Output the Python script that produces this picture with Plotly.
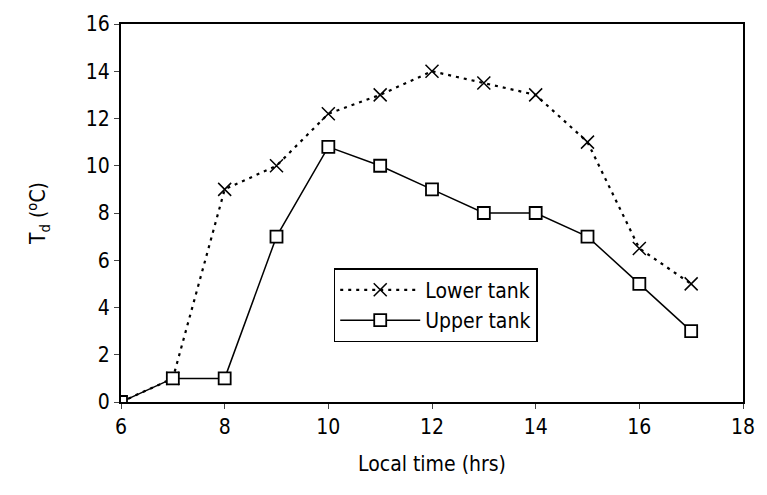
import plotly.graph_objects as go

hours = [6, 7, 8, 9, 10, 11, 12, 13, 14, 15, 16, 17]
lower_tank = [0, 1, 9, 10, 12.2, 13, 14, 13.5, 13, 11, 6.5, 5]
upper_tank = [0, 1, 1, 7, 10.8, 10, 9, 8, 8, 7, 5, 3]

x_ticks = [6, 8, 10, 12, 14, 16, 18]
y_ticks = [0, 2, 4, 6, 8, 10, 12, 14, 16]

FONT = "DejaVu Sans Condensed, DejaVu Sans, sans-serif"

fig = go.Figure()
fig.add_trace(go.Scatter(
    x=hours, y=lower_tank, name="Lower tank", mode="lines+markers",
    line=dict(color="black", width=2.2, dash="3px,5px"),
    marker=dict(symbol="x-thin-open", size=13, color="black",
                line=dict(color="black", width=1.5)),
))
fig.add_trace(go.Scatter(
    x=hours, y=upper_tank, name="Upper tank", mode="lines+markers",
    line=dict(color="black", width=1.5),
    marker=dict(symbol="square", size=12, color="white",
                line=dict(color="black", width=1.8)),
))

axis_common = dict(
    showgrid=False, zeroline=False, showline=True, linecolor="black",
    linewidth=2, mirror=True, ticks="outside", ticklen=5, tickwidth=1,
    tickcolor="#444", tickfont=dict(family=FONT, size=21, color="black"),
)

fig.update_layout(
    width=767, height=495,
    margin=dict(l=121, r=21, t=15, b=93),
    paper_bgcolor="white", plot_bgcolor="white",
    font=dict(family=FONT, size=21, color="black"),
    xaxis=dict(range=[6, 18], tickvals=x_ticks,
               title=dict(text="Local time (hrs)", standoff=18,
                          font=dict(family=FONT, size=21)),
               **axis_common),
    yaxis=dict(range=[0, 16], tickvals=y_ticks,
               title=dict(text="T<sub>d</sub> (<sup>o</sup>C)", standoff=34,
                          font=dict(family=FONT, size=21)),
               **axis_common),
    legend=dict(x=0.342, y=0.354, xanchor="left", yanchor="top",
                bgcolor="white", bordercolor="black", borderwidth=1.5,
                font=dict(family=FONT, size=21), tracegroupgap=0,
                itemwidth=80),
    showlegend=True,
)

fig.write_html("out.html")
